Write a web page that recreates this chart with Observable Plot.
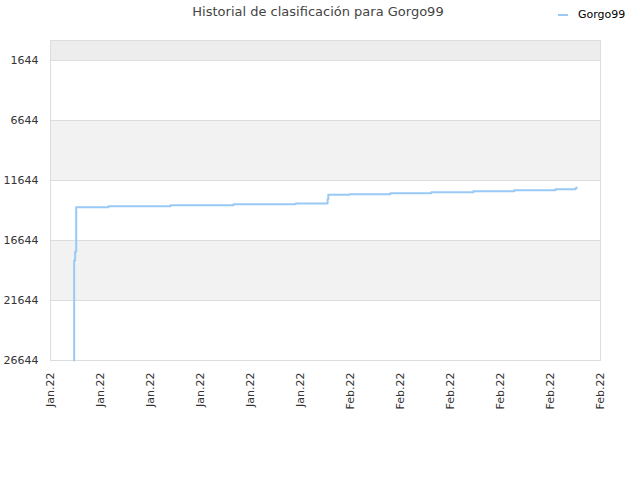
<!DOCTYPE html>
<html>
<head>
<meta charset="utf-8">
<script src="https://cdn.jsdelivr.net/npm/d3@7"></script>
<script src="https://cdn.jsdelivr.net/npm/@observablehq/plot@0.6"></script>
<style>
  body { margin: 0; background: #fff; }
  #wrap { position: relative; width: 640px; height: 480px; font-family: "DejaVu Sans", sans-serif; }
  #title { position: absolute; top: 4px; left: 0; width: 636px; text-align: center; font-size: 13px; color: #444; }
  #legend { position: absolute; top: 8px; left: 558px; font-size: 11px; color: #000; display: flex; align-items: center; }
  #legend span.sw { display: inline-block; width: 10px; height: 2px; background: #99c9f5; margin-right: 10px; }
</style>
</head>
<body>
<div id="wrap">
  <div id="title">Historial de clasificación para Gorgo99</div>
  <div id="legend"><span class="sw"></span>Gorgo99</div>
</div>
<script>
const playerName = "Gorgo99";
const dates = [
  "2022-01-15T10:00Z", "2022-01-15T10:05Z", "2022-01-15T11:30Z", "2022-01-15T13:00Z",
  "2022-01-17T11:30Z", "2022-01-21T05:00Z", "2022-01-24T23:30Z", "2022-01-28T17:00Z",
  "2022-01-30T13:30Z", "2022-01-30T15:00Z", "2022-01-30T16:00Z", "2022-01-31T22:30Z",
  "2022-02-03T09:30Z", "2022-02-05T20:30Z", "2022-02-08T09:00Z", "2022-02-10T20:00Z",
  "2022-02-13T07:00Z", "2022-02-14T12:00Z", "2022-02-14T13:30Z"
];
const ranks = [
  26644, 18311, 17583, 13867,
  13783, 13700, 13617, 13560,
  13560, 13200, 12836, 12786,
  12703, 12619, 12536, 12453,
  12369, 12300, 12228
];
const yTicks = [1644, 6644, 11644, 16644, 21644, 26644];
const xTicks = [
  "2022-01-14", "2022-01-17", "2022-01-20", "2022-01-23", "2022-01-26", "2022-01-29",
  "2022-02-01", "2022-02-04", "2022-02-07", "2022-02-10", "2022-02-13", "2022-02-16"
];
const yDomain = [-23, 26644];
const xDomain = ["2022-01-14", "2022-02-16"];
const bandStart = [-23, 6644, 16644];
const bandEnd = [1644, 11644, 21644];
const bandFill = ["#ededed", "#f2f2f2", "#f2f2f2"];

const data = dates.map((d, i) => ({date: new Date(d), rank: ranks[i]}));
const bands = bandStart.map((s, i) => ({y1: s, y2: bandEnd[i], fill: bandFill[i]}));
const x0 = new Date(xDomain[0]), x1 = new Date(xDomain[1]);

const chart = Plot.plot({
  width: 640,
  height: 480,
  marginTop: 40,
  marginBottom: 120,
  marginLeft: 50,
  marginRight: 40,
  style: {fontFamily: "DejaVu Sans, sans-serif", fontSize: "11px", color: "#333", background: "transparent"},
  x: {type: "utc", domain: [x0, x1], ticks: xTicks.map(d => new Date(d)), tickFormat: d3.utcFormat("%b.%y"),
      tickRotate: -90, tickSize: 0, tickPadding: 12, label: null},
  y: {domain: yDomain, reverse: true, ticks: yTicks, tickSize: 0, tickPadding: 12, label: null, tickFormat: d => String(d)},
  marks: [
    Plot.rect(bands, {x1: () => x0, x2: () => x1, y1: "y1", y2: "y2", fill: "fill"}),
    Plot.ruleY(yTicks, {stroke: "#dddddd"}),
    Plot.frame({stroke: "#dddddd"}),
    Plot.line(data, {x: "date", y: "rank", curve: "step-after", stroke: "#99c9f5", strokeWidth: 2})
  ]
});
chart.style.position = "absolute";
chart.style.left = "0";
chart.style.top = "0";
document.getElementById("wrap").appendChild(chart);
</script>
</body>
</html>
